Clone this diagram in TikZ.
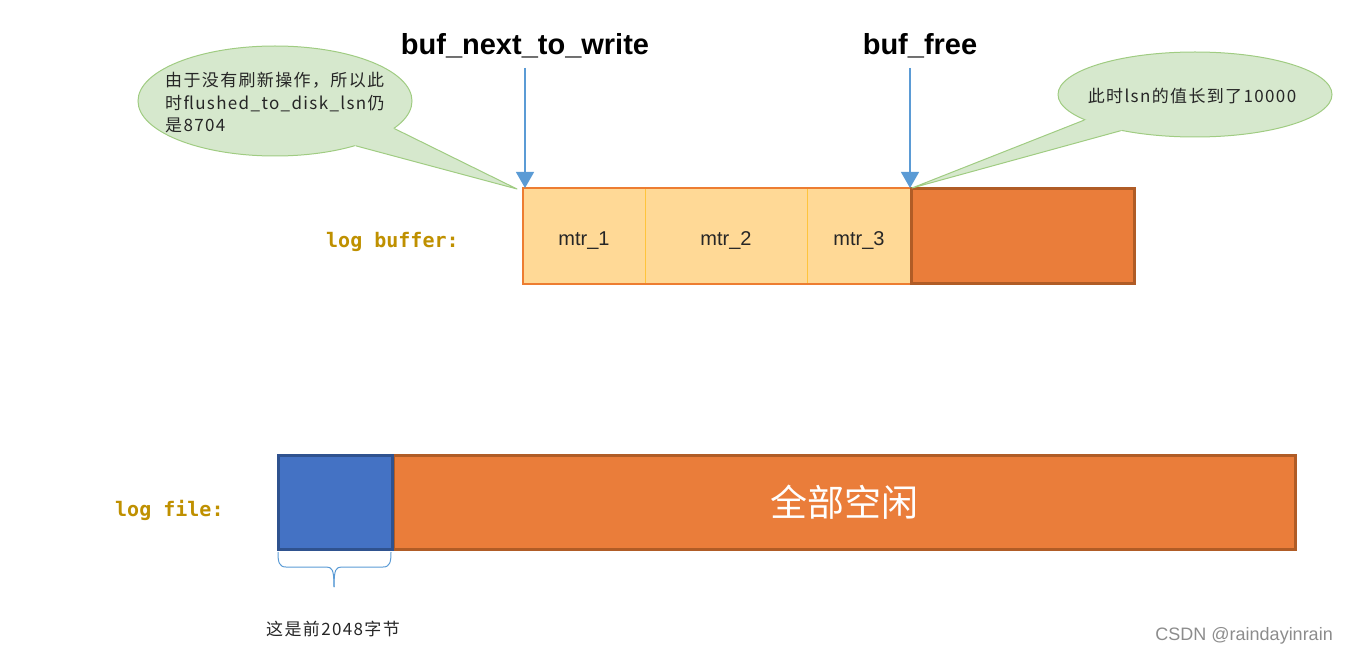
\documentclass[tikz,border=0pt]{standalone}
\usepackage{fontspec}
\setmainfont{Liberation Sans}
\newfontfamily\cjk[LetterSpace=8]{Noto Sans CJK SC}
\newfontfamily\cjkplain{Noto Sans CJK SC}
\newfontfamily\monob{DejaVu Sans Mono}
\usetikzlibrary{shapes.geometric,arrows.meta}
\definecolor{cfill}{RGB}{214,232,205}
\definecolor{cline}{RGB}{160,204,130}
\definecolor{pblue}{RGB}{91,155,213}
\definecolor{mtrfill}{RGB}{255,217,150}
\definecolor{mtrdiv}{RGB}{255,196,60}
\definecolor{mtrout}{RGB}{237,125,49}
\definecolor{orfill}{RGB}{234,125,58}
\definecolor{ordark}{RGB}{176,92,38}
\definecolor{bfill}{RGB}{68,114,196}
\definecolor{bdark}{RGB}{47,82,143}
\definecolor{gold}{RGB}{191,144,0}
\definecolor{txt}{RGB}{38,38,38}
\definecolor{wmgray}{RGB}{140,140,140}
\tikzset{
  title/.style={font=\fontsize{29}{30}\selectfont\bfseries, text=black, inner sep=0pt},
  mtr/.style={draw=mtrdiv, line width=1pt, fill=mtrfill, minimum height=96pt, inner sep=0pt, outer sep=0pt, text=txt, font=\fontsize{20}{20}\selectfont, text height=18pt, text depth=0pt},
  freebox/.style={draw=ordark, line width=3pt, fill=orfill, inner sep=0pt, outer sep=0pt},
  bluebox/.style={draw=bdark, line width=3pt, fill=bfill, inner sep=0pt, outer sep=0pt},
  lbl/.style={text=gold, font=\monob\bfseries\fontsize{20}{20}\selectfont, inner sep=0pt},
  callout/.style={ellipse, draw=cline, fill=cfill, line width=1pt, inner sep=0pt},
  ctext/.style={text=txt, font=\cjk\fontsize{17}{22.5}\selectfont, inner sep=0pt},
  parrow/.style={draw=pblue, line width=1.2pt, -{Triangle[width=18pt,length=16pt]}},
  wm/.style={text=wmgray, font=\fontsize{18}{18}\selectfont, inner sep=0pt},
}
\begin{document}
\begin{tikzpicture}[x=1pt,y=-1pt]
\useasboundingbox (0,0) rectangle (1346,655);

% titles
\node[title] (nw) at (525,46) {buf\_next\_to\_write};
\node[title] (bf) at (920,46) {buf\_free};

% log buffer
\node[lbl, anchor=west] (lb) at (326,242) {log buffer:};
\node[mtr, minimum width=122pt] (m1) at (584,236) {mtr\_1};
\node[mtr, minimum width=162pt] (m2) at (726,236) {mtr\_2};
\node[mtr, minimum width=104pt] (m3) at (859,236) {mtr\_3};
\draw[mtrout, line width=1.3pt] (m1.north west) rectangle (m3.south east);
\node[freebox, minimum width=223pt, minimum height=94pt] (bfr) at (1023,236) {};

% left callout
\node[callout, minimum width=274pt, minimum height=110pt] (c1) at (275,101) {};
\coordinate (c1tip) at (517,189);
\fill[cfill] (c1.-13) -- (c1tip) -- (c1.-29) -- (c1.center) -- cycle;
\draw[cline, line width=1pt, line join=round] (c1.-13) -- (c1tip) -- (c1.-29);
\node[ctext, anchor=west, align=left] (c1t) at (165,103) {由于没有刷新操作，所以此\\时flushed\_to\_disk\_lsn仍\\是8704};

% right callout
\node[callout, minimum width=274pt, minimum height=85pt] (c2) at (1195,94.5) {};
\coordinate (c2tip) at (912,188);
\fill[cfill] (c2.-167.5) -- (c2tip) -- (c2.-154) -- (c2.center) -- cycle;
\draw[cline, line width=1pt, line join=round] (c2.-167.5) -- (c2tip) -- (c2.-154);
\node[ctext] (c2t) at (1192,96) {此时lsn的值长到了10000};

% pointer arrows
\coordinate (a1s) at (525,68);
\coordinate (a2s) at (910,68);
\draw[parrow] (a1s) -- (a1s |- m1.north);
\draw[parrow] (a2s) -- (a2s |- m3.north);

% log file
\node[lbl, anchor=west] (lf) at (115,510) {log file:};
\node[freebox, minimum width=902pt, minimum height=94pt, text=white, font=\cjkplain\fontsize{37}{37}\selectfont] (ff) at (844,502) {全部空闲};
\node[bluebox, minimum width=114pt, minimum height=94pt] (fb) at (335.5,502) {};

% brace
\draw[pblue, line width=1pt] (278,552) .. controls (278,562) and (279,567) .. (286,567) -- (326,567) .. controls (332,567) and (334,569) .. (334,587);
\draw[pblue, line width=1pt] (391,552) .. controls (391,562) and (390,567) .. (383,567) -- (342,567) .. controls (336,567) and (334,569) .. (334,587);
\node[ctext] (bt) at (333,629) {这是前2048字节};

% watermark
\node[wm, anchor=east] (wmk) at (1333,636) {CSDN @raindayinrain};
\end{tikzpicture}
\end{document}
